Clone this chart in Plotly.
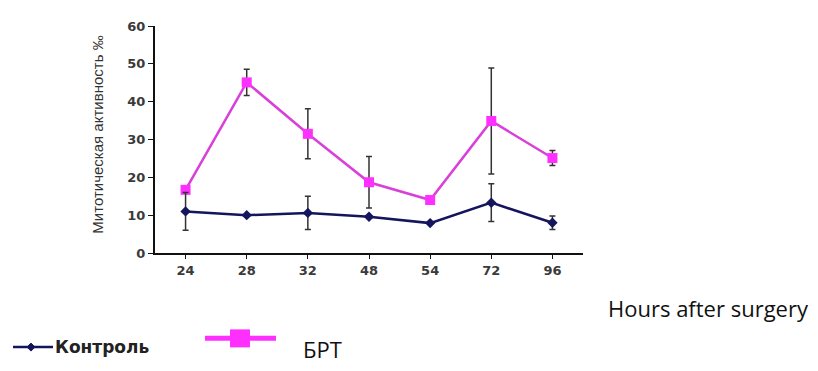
import plotly.graph_objects as go

hours = ["24", "28", "32", "48", "54", "72", "96"]
control = [11.0, 10.0, 10.6, 9.6, 7.9, 13.3, 8.0]
control_err = [5.0, None, 4.4, None, None, 5.0, 1.8]
brt = [16.7, 45.1, 31.5, 18.7, 14.0, 34.9, 25.1]
brt_err = [None, 3.5, 6.6, 6.8, None, 14.0, 2.0]
y_ticks = [0, 10, 20, 30, 40, 50, 60]

NAVY = "#15155e"
PINK = "#d93fd9"
PINK_M = "#ff30ff"
TICKFONT = dict(family="DejaVu Sans", size=13, color="#3a3a3a", weight="bold")

# page body has an 8px margin; work in screen pixels and subtract it
OFF = 8
W, H = 818, 371
PL, PR, PT, PB = 155, 583, 19, 253  # plot area in screen pixels
L, R, T, B = PL - OFF, W - (PR - OFF), PT - OFF, H - (PB - OFF)
PW, PH = PR - PL, PB - PT


def px(xp):
    return (xp - PL) / PW


def py(yp):
    return (PB - yp) / PH


fig = go.Figure()
fig.add_trace(go.Scatter(
    x=hours, y=brt, mode="lines+markers", name="БРТ",
    line=dict(color=PINK, width=2.5),
    marker=dict(symbol="square", size=10, color=PINK_M),
    error_y=dict(type="data", array=brt_err, visible=True, color="#333333", thickness=1.5, width=3),
))
fig.add_trace(go.Scatter(
    x=hours, y=control, mode="lines+markers", name="Контроль",
    line=dict(color=NAVY, width=2.5),
    marker=dict(symbol="diamond", size=8, color=NAVY),
    error_y=dict(type="data", array=control_err, visible=True, color="#333333", thickness=1.5, width=3),
))

fig.update_layout(
    width=W, height=H,
    margin=dict(l=L, r=R, t=T, b=B),
    paper_bgcolor="white", plot_bgcolor="white",
    showlegend=False,
    xaxis=dict(type="category", range=[-0.5, 6.5], showline=True, linecolor="#111", linewidth=2,
               ticks="outside", ticklen=4, tickcolor="#111", tickfont=TICKFONT, showgrid=False,
               zeroline=False),
    yaxis=dict(range=[0, 60], tickvals=y_ticks, showline=True, linecolor="#111", linewidth=2,
               ticks="outside", ticklen=5, tickcolor="#111", tickfont=TICKFONT, showgrid=False,
               zeroline=False),
)

fig.add_annotation(text="Митотическая активность ‰", xref="paper", yref="paper",
                   x=px(98), y=py(131), xanchor="center", yanchor="middle",
                   textangle=-90, showarrow=False,
                   font=dict(family="Liberation Sans", size=15, color="#333"))
fig.add_annotation(text="Hours after surgery", xref="paper", yref="paper",
                   x=px(606), y=py(310), xanchor="left", yanchor="middle", showarrow=False,
                   font=dict(family="Open Sans", size=22, color="#111"))

# legend drawn manually
fig.add_shape(type="line", xref="paper", yref="paper", x0=px(13), x1=px(53),
              y0=py(350), y1=py(350), line=dict(color=NAVY, width=2.5))
fig.add_shape(type="path", xref="paper", yref="paper", xsizemode="pixel", ysizemode="pixel",
              xanchor=px(31), yanchor=py(350), path="M -4 0 L 0 4 L 4 0 L 0 -4 Z",
              fillcolor=NAVY, line=dict(color=NAVY, width=1))
fig.add_annotation(text="<b>Контроль</b>", xref="paper", yref="paper",
                   x=px(53), y=py(350), xanchor="left", yanchor="middle", showarrow=False,
                   font=dict(family="DejaVu Sans", size=17, color="#222"))
fig.add_shape(type="line", xref="paper", yref="paper", x0=px(205), x1=px(276),
              y0=py(341), y1=py(341), line=dict(color=PINK_M, width=5))
fig.add_shape(type="rect", xref="paper", yref="paper", xsizemode="pixel", ysizemode="pixel",
              xanchor=px(240), yanchor=py(341), x0=-10, x1=10, y0=-9, y1=9,
              fillcolor=PINK_M, line=dict(color=PINK_M, width=0))
fig.add_annotation(text="БРТ", xref="paper", yref="paper",
                   x=px(301), y=py(352), xanchor="left", yanchor="middle", showarrow=False,
                   font=dict(family="Open Sans", size=22, color="#111"))

fig.write_html("out.html")
